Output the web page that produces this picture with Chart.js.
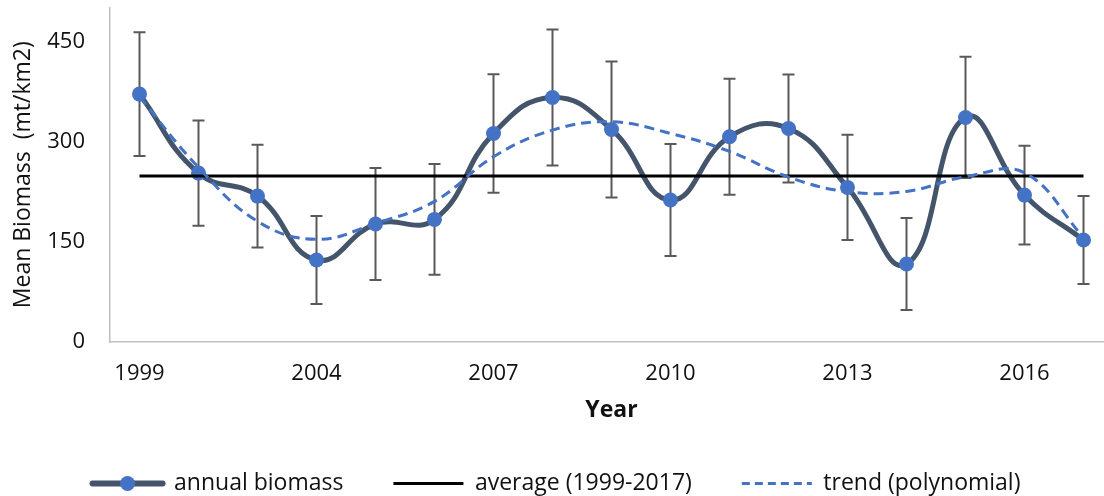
<!DOCTYPE html>
<html lang="en">
<head>
<meta charset="UTF-8">
<title>Mean Biomass</title>
<script src="https://cdn.jsdelivr.net/npm/chart.js"></script>
<style>
    body {
        margin: 0;
        overflow: hidden;
        background: #ffffff;
    }
    #wrap {
        width: 1123px;
        height: 496px;
    }
</style>
</head>
<body>
<div id="wrap">
    <canvas id="chart" width="1123" height="496"></canvas>
</div>
<script>
    // survey years (two early years are not labelled on the axis)
    const years = ['1999', '2001', '2002', '2004', '2005', '2006', '2007', '2008', '2009',
                   '2010', '2011', '2012', '2013', '2014', '2015', '2016', '2017'];
    const annualBiomass = [372, 253.5, 219, 123, 177, 184, 313, 367, 319,
                           213, 308, 320.5, 232, 117, 337, 220.5, 153];
    const errorBars = [93, 79, 77, 66, 84, 83, 89, 102, 102,
                       84, 87, 81, 79, 69, 91, 74, 66];
    const trendValues = [368, 262, 181, 154, 178, 211, 278, 318, 330.5,
                         313, 286, 247.5, 225.5, 226, 248, 254, 157];
    const averageValue = 249;
    const yTicks = [0, 150, 300, 450];

    const FONT = "'Open Sans', 'Noto Sans', sans-serif";
    const SLATE = '#44546A';
    const BLUE = '#4472C4';

    const errorBarPlugin = {
        id: 'errorBars',
        beforeDatasetsDraw(chart) {
            const ctx = chart.ctx;
            const xs = chart.scales.x;
            const ys = chart.scales.y;
            ctx.save();
            ctx.strokeStyle = '#595959';
            ctx.lineWidth = 2;
            annualBiomass.forEach((v, i) => {
                const x = xs.getPixelForValue(i);
                const top = ys.getPixelForValue(v + errorBars[i]);
                const bot = ys.getPixelForValue(v - errorBars[i]);
                ctx.beginPath();
                ctx.moveTo(x, top);
                ctx.lineTo(x, bot);
                ctx.moveTo(x - 6, top);
                ctx.lineTo(x + 6, top);
                ctx.moveTo(x - 6, bot);
                ctx.lineTo(x + 6, bot);
                ctx.stroke();
            });
            ctx.restore();
        }
    };

    // marker on the first legend sample
    const legendMarkerPlugin = {
        id: 'legendMarker',
        afterDraw(chart) {
            const lg = chart.legend;
            if (!lg || !lg.legendHitBoxes || !lg.legendHitBoxes.length) return;
            const hb = lg.legendHitBoxes[0];
            const bw = lg.options.labels.pointStyleWidth;
            const ctx = chart.ctx;
            ctx.save();
            ctx.fillStyle = BLUE;
            ctx.beginPath();
            ctx.arc(hb.left + bw / 2, hb.top + hb.height / 2, 7.5, 0, Math.PI * 2);
            ctx.fill();
            ctx.restore();
        }
    };

    // keep tick padding from pushing the plot area in
    function noScalePadding(scale) {
        scale.paddingTop = 0;
        scale.paddingBottom = 0;
        scale.paddingLeft = 0;
        scale.paddingRight = 0;
    }

    new Chart(document.getElementById('chart'), {
        type: 'line',
        data: {
            labels: years,
            datasets: [
                {
                    label: 'annual biomass',
                    data: annualBiomass,
                    borderColor: SLATE,
                    borderWidth: 5,
                    pointRadius: 7.5,
                    pointBackgroundColor: BLUE,
                    pointBorderColor: BLUE,
                    pointBorderWidth: 0,
                    tension: 0.45,
                    fill: false,
                    order: 3
                },
                {
                    label: 'average (1999-2017)',
                    data: years.map(() => averageValue),
                    borderColor: '#000000',
                    borderWidth: 3,
                    pointRadius: 0,
                    fill: false,
                    order: 2
                },
                {
                    label: 'trend (polynomial)',
                    data: trendValues,
                    borderColor: BLUE,
                    borderWidth: 3,
                    borderDash: [10, 6],
                    pointRadius: 0,
                    tension: 0.4,
                    fill: false,
                    order: 1
                }
            ]
        },
        options: {
            responsive: false,
            animation: false,
            devicePixelRatio: 1,
            layout: { padding: { top: 7, right: 10, bottom: -2, left: 0 } },
            scales: {
                x: {
                    type: 'category',
                    offset: true,
                    grid: { display: false, drawTicks: false },
                    border: { display: true, color: '#BFBFBF', width: 1.5 },
                    ticks: {
                        autoSkip: false,
                        maxRotation: 0,
                        padding: 19,
                        color: '#111111',
                        font: { family: FONT, size: 22 },
                        callback: function (val, idx) {
                            return idx % 3 === 0 ? this.getLabelForValue(val) : '';
                        }
                    },
                    title: {
                        display: true,
                        text: 'Year',
                        color: '#111111',
                        padding: { top: 0, bottom: 0 },
                        font: { family: FONT, size: 23, weight: 'bold', lineHeight: 1 }
                    },
                    afterFit(scale) {
                        scale.height = 80;
                        noScalePadding(scale);
                    }
                },
                y: {
                    min: 0,
                    max: 502,
                    grid: { display: false, drawTicks: false },
                    border: { display: true, color: '#BFBFBF', width: 1.5 },
                    afterBuildTicks(scale) {
                        scale.ticks = yTicks.map(v => ({ value: v }));
                    },
                    ticks: {
                        padding: 25,
                        color: '#111111',
                        font: { family: FONT, size: 22 }
                    },
                    title: {
                        display: true,
                        text: 'Mean Biomass  (mt/km2)',
                        color: '#111111',
                        padding: { top: 12, bottom: 0 },
                        font: { family: FONT, size: 23, lineHeight: 1 }
                    },
                    afterFit(scale) {
                        scale.width = 110;
                        noScalePadding(scale);
                    }
                }
            },
            plugins: {
                tooltip: { enabled: false },
                legend: {
                    position: 'bottom',
                    maxHeight: 76,
                    labels: {
                        usePointStyle: true,
                        pointStyleWidth: 70,
                        padding: 50,
                        color: '#111111',
                        font: { family: FONT, size: 23 },
                        generateLabels(chart) {
                            return [
                                { text: 'annual biomass', datasetIndex: 0, pointStyle: 'line',
                                  strokeStyle: SLATE, fillStyle: SLATE, lineWidth: 6, lineCap: 'round', fontColor: '#111111' },
                                { text: 'average (1999-2017)', datasetIndex: 1, pointStyle: 'line',
                                  strokeStyle: '#000000', fillStyle: '#000000', lineWidth: 3, fontColor: '#111111' },
                                { text: 'trend (polynomial)', datasetIndex: 2, pointStyle: 'line',
                                  strokeStyle: BLUE, fillStyle: BLUE, lineWidth: 3, lineDash: [8, 5], fontColor: '#111111' }
                            ];
                        }
                    }
                }
            }
        },
        plugins: [errorBarPlugin, legendMarkerPlugin]
    });
</script>
</body>
</html>
